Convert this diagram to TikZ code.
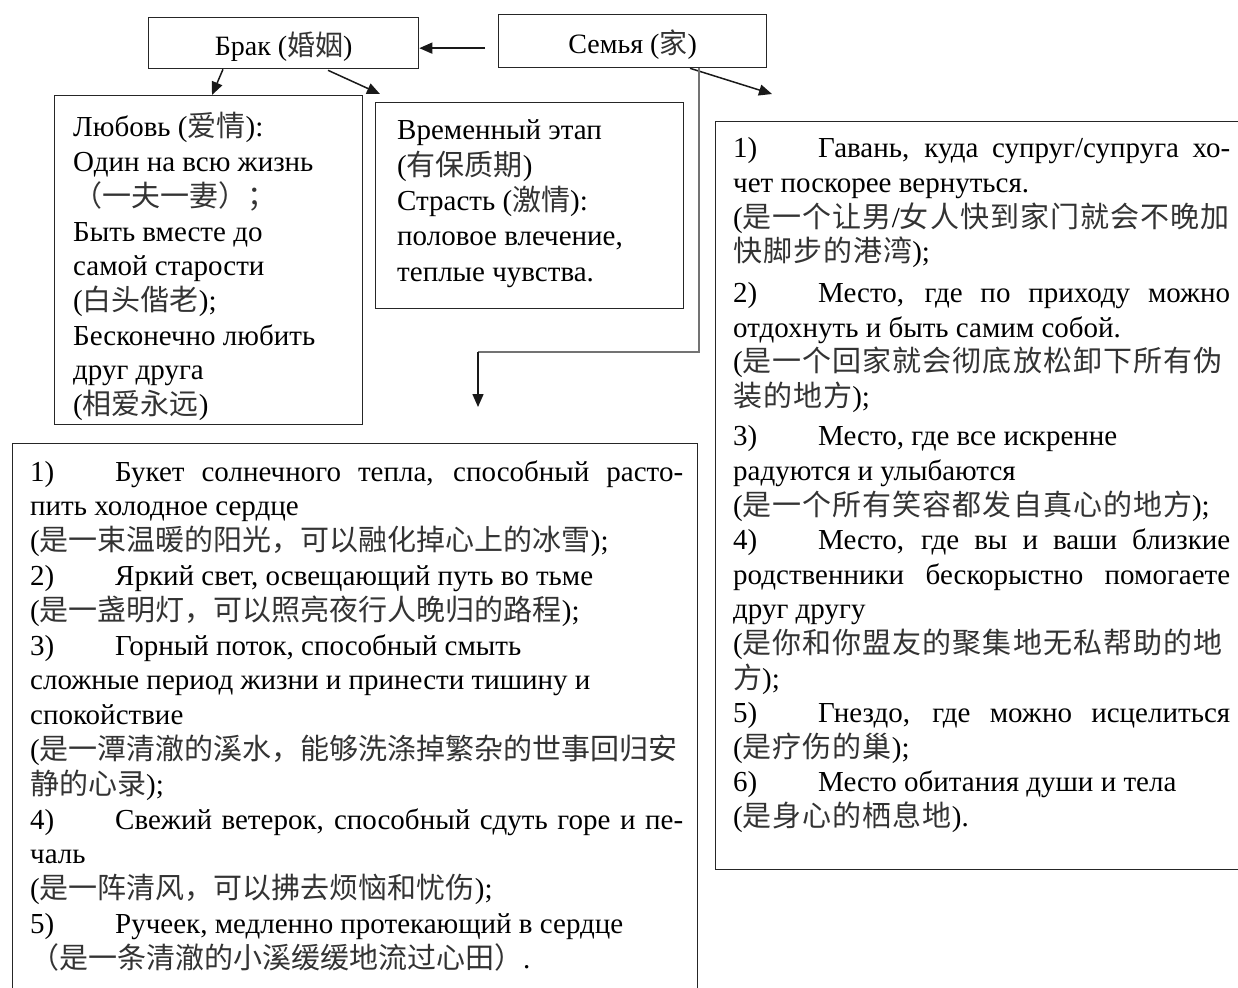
\documentclass[tikz,border=0pt]{standalone}
\usepackage{fontspec}
\setmainfont{Liberation Serif}
\newfontfamily\cjfont{Noto Sans CJK SC}
\newfontfamily\cjsfont[LetterSpace=3.5]{Noto Sans CJK SC}
\newcommand{\cj}{\cjfont\color{black!80}}
\newcommand{\cjs}{\cjsfont\color{black!80}}
\usetikzlibrary{arrows.meta,calc}
\newcommand{\tblock}[3]{\vtop{\hsize=#1\parindent=0pt\parskip=0pt\raggedright
  \fontsize{29}{#2}\selectfont\lineskiplimit=-200pt\relax #3\par}}
\newcommand{\numlbl}[1]{\makebox[85pt][l]{#1}}
\newcommand{\jline}[2]{\makebox[#1][s]{#2}}
\tikzset{
  boxshape/.style={draw=black!85, line width=1.3pt, rectangle, inner sep=0pt, anchor=north west},
  titlebox/.style={boxshape, text height=25pt, text depth=0pt, font=\fontsize{28}{34}\selectfont},
  txt/.style={anchor=base west, inner sep=0pt},
  arr/.style={line width=1.5pt, black!90, -{Triangle[length=13pt,width=11pt]}},
  grayline/.style={line width=1.8pt, black!55}
}
\begin{document}
\begin{tikzpicture}[x=1pt,y=-1pt]
\useasboundingbox (0,0) rectangle (1238,987);
\clip (0,0) rectangle (1238,987);
% title boxes
\node[titlebox, minimum width=270pt, minimum height=51pt] (brak) at (148,17) {Брак ({\cj 婚姻})};
\node[titlebox, minimum width=268pt, minimum height=53pt] (semya) at (498,14) {Семья ({\cj 家})};
% content boxes
\node[boxshape, minimum width=308pt, minimum height=329pt] (lub) at (54,95) {};
\node[boxshape, minimum width=308pt, minimum height=206pt] (vrem) at (375,102) {};
\node[boxshape, minimum width=540pt, minimum height=748pt] (home) at (715,121) {};
\node[boxshape, minimum width=685pt, minimum height=560pt] (lamp) at (12,443) {};
% texts
\node[txt] (lubtxt) at (73,137) {\tblock{300pt}{34.7pt}{%
Любовь ({\cj 爱情}):\\
Один на всю жизнь\\
{\cj （一夫一妻）；}\\
Быть вместе до\\
самой старости\\
({\cj 白头偕老});\\
Бесконечно любить\\
друг друга\\
({\cj 相爱永远})}};
\node[txt] (vremtxt) at (397,140) {\tblock{300pt}{35.3pt}{%
Временный этап\\
({\cj 有保质期})\\
Страсть ({\cj 激情}):\\
половое влечение,\\
теплые чувства.}};
\node[txt] (hometxt) at (733,158) {\tblock{505pt}{34.6pt}{%
\numlbl{1)}\jline{412pt}{Гавань, куда супруг/супруга хо-}\\
чет поскорее вернуться.\\
({\cjs 是一个让男}/{\cjs 女人快到家门就会不晚加}\\
{\cjs 快脚步的港湾});\\[6pt]
\numlbl{2)}\jline{412pt}{Место, где по приходу можно}\\
отдохнуть и быть самим собой.\\
({\cjs 是一个回家就会彻底放松卸下所有伪}\\
{\cjs 装的地方});\\[5pt]
\numlbl{3)}Место, где все искренне\\
радуются и улыбаются\\
({\cjs 是一个所有笑容都发自真心的地方});\\
\numlbl{4)}\jline{412pt}{Место, где вы и ваши близкие}\\
\jline{497pt}{родственники бескорыстно помогаете}\\
друг другу\\
({\cjs 是你和你盟友的聚集地无私帮助的地}\\
{\cjs 方});\\
\numlbl{5)}\jline{412pt}{Гнездо, где можно исцелиться}\\
({\cjs 是疗伤的巢});\\
\numlbl{6)}Место обитания души и тела\\
({\cjs 是身心的栖息地}).}};
\node[txt] (lamptxt) at (30,481) {\tblock{660pt}{34.8pt}{%
\numlbl{1)}\jline{568pt}{Букет солнечного тепла, способный расто-}\\
пить холодное сердце\\
({\cj 是一束温暖的阳光，可以融化掉心上的冰雪});\\
\numlbl{2)}Яркий свет, освещающий путь во тьме\\
({\cj 是一盏明灯，可以照亮夜行人晚归的路程});\\
\numlbl{3)}Горный поток, способный смыть\\
сложные период жизни и принести тишину и\\
спокойствие\\
({\cj 是一潭清澈的溪水，能够洗涤掉繁杂的世事回归安}\\
{\cj 静的心录});\\
\numlbl{4)}\jline{568pt}{Свежий ветерок, способный сдуть горе и пе-}\\
чаль\\
({\cj 是一阵清风，可以拂去烦恼和忧伤});\\
\numlbl{5)}Ручеек, медленно протекающий в сердце\\
{\cj （是一条清澈的小溪缓缓地流过心田）}.}};
% connectors
\coordinate (fromsemya) at ($(semya.west)+(-13,7)$);
\draw[arr] (fromsemya) -- (fromsemya -| brak.east);
\draw[arr] ($(brak.south west)+(75,0)$) -- ($(lub.north west)+(158,0)$);
\draw[arr] ($(brak.south west)+(180,1)$) -- ($(vrem.north west)+(5,-8)$);
\draw[arr] ($(semya.south west)+(192,0)$) -- ($(home.north west)+(57,-27)$);
\coordinate (bend) at (478,352);
\coordinate (tipdown) at (478,407);
\draw[grayline] ($(semya.south west)+(201,0)$) |- (bend);
\draw[arr] (bend) -- (tipdown);
\end{tikzpicture}
\end{document}
